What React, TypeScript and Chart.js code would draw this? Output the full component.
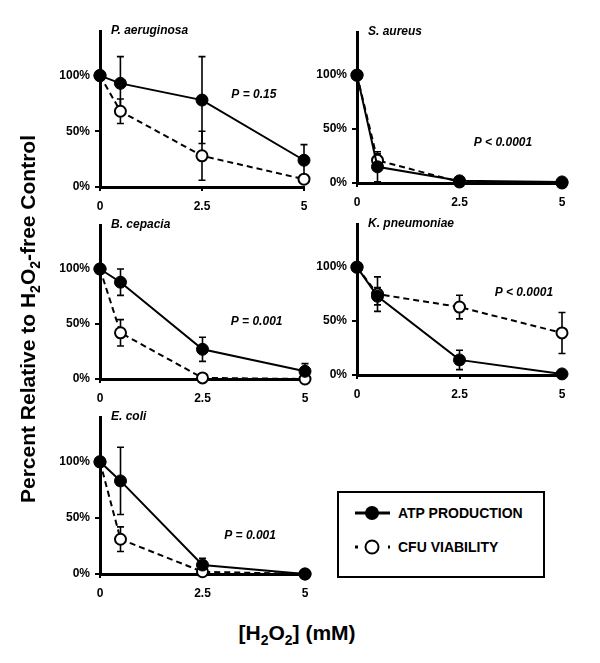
import React, { useEffect, useRef } from "react";
import { Chart, registerables } from "chart.js";

Chart.register(...registerables);

// ---------- data ----------
const doses = [0, 0.5, 2.5, 5];
const xTickValues = [0, 2.5, 5];
const yTickValues = [0, 50, 100];
const organisms = ["P. aeruginosa", "S. aureus", "B. cepacia", "K. pneumoniae", "E. coli"];
const pValues = ["P = 0.15", "P < 0.0001", "P = 0.001", "P < 0.0001", "P = 0.001"];
const seriesNames = ["ATP PRODUCTION", "CFU VIABILITY"];

const atpPA = [100, 93, 78, 24];
const atpErrPA = [0, 24, 39, 14];
const cfuPA = [100, 68, 28, 7];
const cfuErrPA = [0, 11, 22, 3];

const atpSA = [100, 15, 2, 1];
const atpErrSA = [0, 14, 1, 0];
const cfuSA = [100, 21, 1, 0];
const cfuErrSA = [0, 6, 0, 0];

const atpBC = [100, 88, 27, 7];
const atpErrBC = [0, 12, 11, 7];
const cfuBC = [100, 42, 1, 0];
const cfuErrBC = [0, 12, 0, 0];

const atpKP = [100, 73, 14, 1];
const atpErrKP = [0, 8, 9, 0];
const cfuKP = [100, 75, 63, 39];
const cfuErrKP = [0, 16, 11, 19];

const atpEC = [100, 83, 8, 0];
const atpErrEC = [0, 30, 6, 0];
const cfuEC = [100, 31, 2, 0];
const cfuErrEC = [0, 11, 0, 0];

// p-value label anchors (data coordinates: dose, percent)
const pLabelX = [3.77, 3.56, 3.82, 4.07, 3.66];
const pLabelY = [83, 37, 52, 76, 34];

const atpAll = [atpPA, atpSA, atpBC, atpKP, atpEC];
const atpErrAll = [atpErrPA, atpErrSA, atpErrBC, atpErrKP, atpErrEC];
const cfuAll = [cfuPA, cfuSA, cfuBC, cfuKP, cfuEC];
const cfuErrAll = [cfuErrPA, cfuErrSA, cfuErrBC, cfuErrKP, cfuErrEC];

// ---------- layout (plot area in page pixels) ----------
const plotBoxes = [
  { l: 100, t: 31, r: 304, b: 187 },
  { l: 357, t: 32, r: 562, b: 183 },
  { l: 100, t: 225, r: 305, b: 379 },
  { l: 357, t: 224, r: 562, b: 375 },
  { l: 100, t: 417, r: 305, b: 574 },
];
const PAD_L = 60;
const PAD_T = 15;
const PAD_R = 15;
const PAD_B = 35;
const FONT = "'Liberation Sans', Arial, Helvetica, sans-serif";

const annotPlugin = {
  id: "annot",
  beforeDatasetsDraw(chart: any, _args: any, opts: any) {
    const ctx = chart.ctx;
    const xs = chart.scales.x;
    const ys = chart.scales.y;
    ctx.save();
    ctx.strokeStyle = "#000";
    ctx.lineWidth = 1.6;
    chart.data.datasets.forEach((ds: any, i: number) => {
      const errs = opts.errors[i];
      ds.data.forEach((pt: any, j: number) => {
        const e = errs[j];
        if (!e) return;
        const px = xs.getPixelForValue(pt.x);
        const yTop = ys.getPixelForValue(pt.y + e);
        const yBot = ys.getPixelForValue(Math.max(0, pt.y - e));
        ctx.beginPath();
        ctx.moveTo(px, yTop);
        ctx.lineTo(px, yBot);
        ctx.moveTo(px - 3.5, yTop);
        ctx.lineTo(px + 3.5, yTop);
        ctx.moveTo(px - 3.5, yBot);
        ctx.lineTo(px + 3.5, yBot);
        ctx.stroke();
      });
    });
    ctx.restore();
  },
  afterDraw(chart: any, _args: any, opts: any) {
    const ctx = chart.ctx;
    const xs = chart.scales.x;
    const ys = chart.scales.y;
    const area = chart.chartArea;
    ctx.save();
    ctx.fillStyle = "#000";
    ctx.font = `italic bold 12px ${FONT}`;
    ctx.textBaseline = "middle";
    ctx.textAlign = "left";
    ctx.fillText(opts.title, area.left + 11, area.top);
    ctx.textAlign = "center";
    ctx.fillText(opts.pText, xs.getPixelForValue(opts.px), ys.getPixelForValue(opts.py));
    ctx.restore();
  },
};

function Panel({ idx }: { idx: number }) {
  const ref = useRef<HTMLCanvasElement | null>(null);
  const box = plotBoxes[idx];
  const w = box.r - box.l + PAD_L + PAD_R;
  const h = box.b - box.t + PAD_T + PAD_B;

  useEffect(() => {
    if (!ref.current) return;
    const toPts = (arr: number[]) => doses.map((d, k) => ({ x: d, y: arr[k] }));
    const chart = new Chart(ref.current, {
      type: "line",
      data: {
        datasets: [
          {
            label: seriesNames[0],
            data: toPts(atpAll[idx]),
            borderColor: "#000",
            borderWidth: 2,
            backgroundColor: "#000",
            pointBackgroundColor: "#000",
            pointBorderColor: "#000",
            pointBorderWidth: 1,
            pointRadius: 6,
            tension: 0,
            clip: false,
          },
          {
            label: seriesNames[1],
            data: toPts(cfuAll[idx]),
            borderColor: "#000",
            borderWidth: 2,
            borderDash: [6, 4],
            backgroundColor: "#fff",
            pointBackgroundColor: "#fff",
            pointBorderColor: "#000",
            pointBorderWidth: 2,
            pointRadius: 5.5,
            tension: 0,
            clip: false,
          },
        ],
      },
      options: {
        responsive: false,
        animation: false,
        events: [],
        layout: { padding: { left: 0, top: PAD_T, right: PAD_R, bottom: 0 } },
        plugins: {
          legend: { display: false },
          tooltip: { enabled: false },
          annot: {
            errors: [atpErrAll[idx], cfuErrAll[idx]],
            title: organisms[idx],
            pText: pValues[idx],
            px: pLabelX[idx],
            py: pLabelY[idx],
          },
        } as any,
        scales: {
          x: {
            type: "linear",
            min: 0,
            max: 5,
            afterBuildTicks: (s: any) => {
              s.ticks = xTickValues.map((v) => ({ value: v }));
            },
            afterFit: (s: any) => {
              s.height = PAD_B;
            },
            grid: {
              drawOnChartArea: false,
              drawTicks: true,
              tickLength: 4,
              color: "#000",
              lineWidth: 2,
            },
            border: { display: true, color: "#000", width: 3 },
            ticks: {
              color: "#000",
              font: { family: FONT, size: 12, weight: "bold" },
              padding: 8,
              maxRotation: 0,
              autoSkip: false,
              callback: (v: any) => String(v),
            },
          },
          y: {
            type: "linear",
            min: 0,
            max: 140,
            afterBuildTicks: (s: any) => {
              s.ticks = yTickValues.map((v) => ({ value: v }));
            },
            afterFit: (s: any) => {
              s.width = PAD_L;
            },
            grid: {
              drawOnChartArea: false,
              drawTicks: true,
              tickLength: 5,
              color: "#000",
              lineWidth: 2,
            },
            border: { display: true, color: "#000", width: 3 },
            ticks: {
              color: "#000",
              font: { family: FONT, size: 12, weight: "bold" },
              padding: 5,
              autoSkip: false,
              callback: (v: any) => `${v}%`,
            },
          },
        },
      },
      plugins: [annotPlugin],
    } as any);
    return () => chart.destroy();
  }, [idx]);

  return (
    <canvas
      ref={ref}
      width={w}
      height={h}
      style={{
        position: "absolute",
        left: box.l - PAD_L,
        top: box.t - PAD_T,
        width: w,
        height: h,
      }}
    />
  );
}

function LegendBox() {
  const rowStyle: React.CSSProperties = {
    position: "absolute",
    left: 15,
    display: "flex",
    alignItems: "center",
    height: 20,
  };
  const textStyle: React.CSSProperties = {
    fontWeight: "bold",
    fontSize: 14,
    marginLeft: 7,
    whiteSpace: "nowrap",
    color: "#000",
  };
  return (
    <div
      style={{
        position: "absolute",
        left: 337,
        top: 491,
        width: 208,
        height: 87,
        border: "2px solid #000",
        boxSizing: "border-box",
        background: "#fff",
      }}
    >
      <div style={{ ...rowStyle, top: 10 }}>
        <svg width={37} height={16}>
          <line x1={1} y1={8} x2={36} y2={8} stroke="#000" strokeWidth={3} />
          <circle cx={18} cy={8} r={7} fill="#000" />
        </svg>
        <span style={textStyle}>{seriesNames[0]}</span>
      </div>
      <div style={{ ...rowStyle, top: 44 }}>
        <svg width={37} height={16}>
          <line x1={1} y1={8} x2={36} y2={8} stroke="#000" strokeWidth={3} strokeDasharray="3 13.5" />
          <circle cx={18} cy={8} r={6.5} fill="#fff" stroke="#000" strokeWidth={2} />
        </svg>
        <span style={textStyle}>{seriesNames[1]}</span>
      </div>
    </div>
  );
}

export default function App() {
  const sub: React.CSSProperties = { fontSize: 14, verticalAlign: "-5px", lineHeight: 0 };
  return (
    <div
      style={{
        position: "absolute",
        left: 0,
        top: 0,
        width: 600,
        height: 663,
        background: "#fff",
        fontFamily: FONT,
        color: "#000",
        overflow: "hidden",
      }}
    >
      {organisms.map((_, i) => (
        <Panel key={i} idx={i} />
      ))}
      <LegendBox />
      <div
        style={{
          position: "absolute",
          left: 28,
          top: 319,
          transform: "translate(-50%, -50%) rotate(-90deg)",
          whiteSpace: "nowrap",
          fontWeight: "bold",
          fontSize: 21,
          lineHeight: "24px",
        }}
      >
        Percent Relative to H<span style={sub}>2</span>O<span style={sub}>2</span>-free Control
      </div>
      <div
        style={{
          position: "absolute",
          left: 297,
          top: 633,
          transform: "translate(-50%, -50%)",
          whiteSpace: "nowrap",
          fontWeight: "bold",
          fontSize: 21,
          lineHeight: "24px",
        }}
      >
        [H<span style={sub}>2</span>O<span style={sub}>2</span>] (mM)
      </div>
    </div>
  );
}
